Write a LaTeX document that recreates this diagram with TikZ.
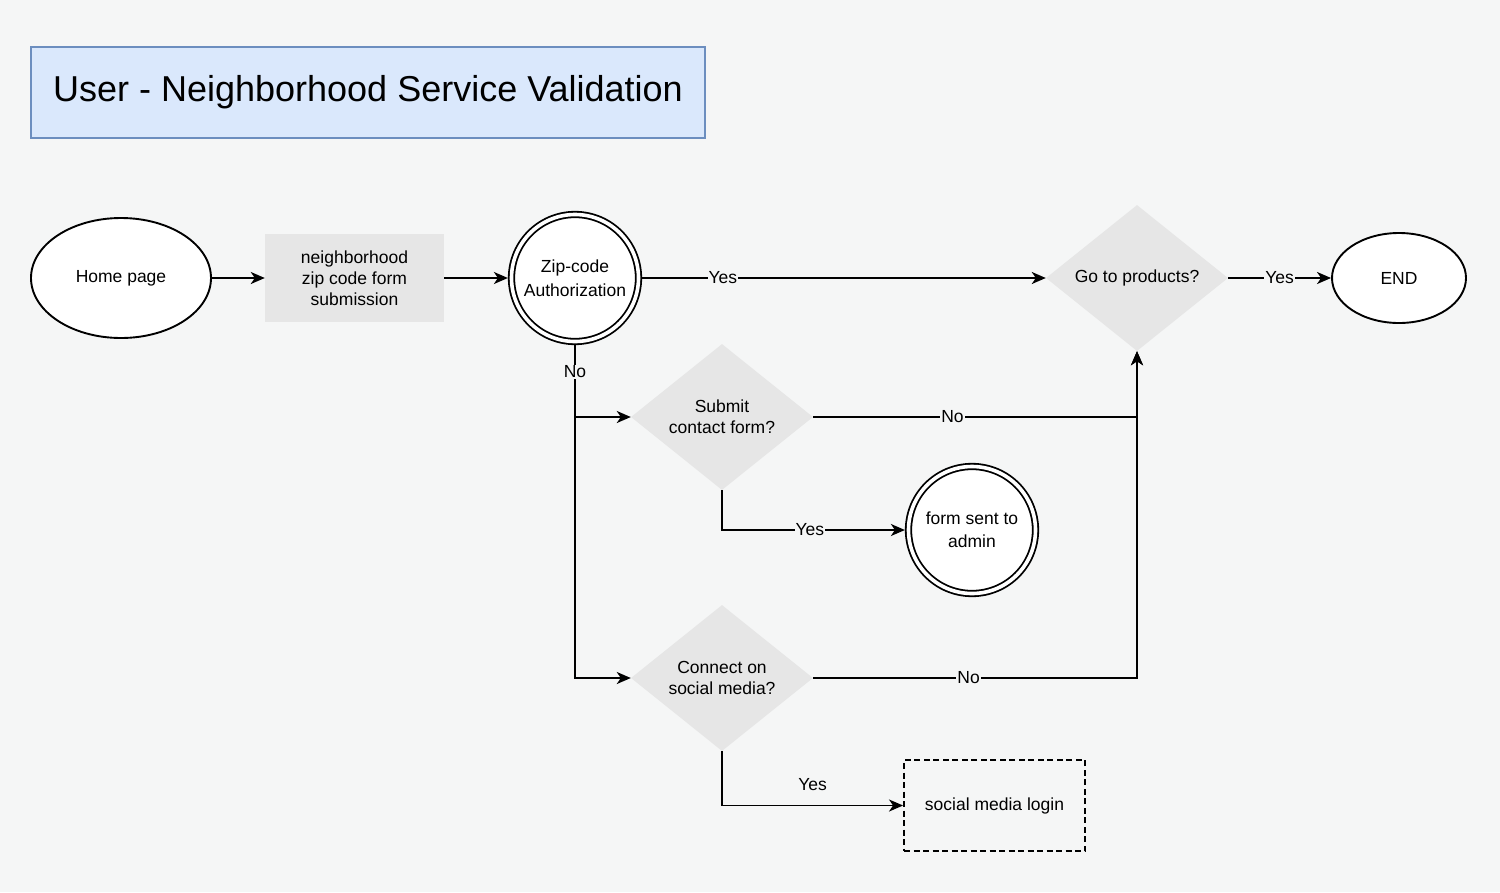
\documentclass[tikz,border=0pt]{standalone}
\usepackage{fontspec}
\setmainfont{Liberation Sans}
\usetikzlibrary{shapes.geometric,arrows.meta,calc}
\definecolor{bg}{RGB}{245,246,246}
\definecolor{titlefill}{HTML}{DAE8FC}
\definecolor{titledraw}{HTML}{6C8EBF}
\definecolor{boxfill}{HTML}{E6E6E6}
\tikzset{
  lbl/.style={font=\fontsize{17.5}{21}\selectfont, align=center, text=black},
  term/.style={ellipse, draw=black, fill=white, line width=1.9pt, inner sep=0pt, lbl},
  procbox/.style={rectangle, fill=boxfill, inner sep=0pt, lbl},
  decide/.style={diamond, fill=boxfill, aspect=1.25, inner sep=0pt, minimum width=182pt, minimum height=146pt, lbl},
  dcirc/.style={circle, draw=black, line width=1.8pt, double=white, double distance=3.6pt, fill=white, inner sep=0pt, outer sep=3.6pt, minimum size=127pt, lbl},
  conn/.style={draw=black, line width=1.9pt, -{Stealth[length=14pt,width=12pt,inset=4pt]}},
  elbl/.style={fill=bg, inner sep=1pt, font=\fontsize{17.5}{20}\selectfont, text=black},
}
\begin{document}
\begin{tikzpicture}[x=1pt,y=-1pt]
\fill[bg] (0,0) rectangle (1500,892);
\useasboundingbox (0,0) rectangle (1500,892);

\node[draw=titledraw, fill=titlefill, line width=1.8pt, minimum width=674pt, minimum height=91pt, inner sep=0pt,
  font=\fontsize{36}{40}\selectfont] (title) at (368,92.5) {User - Neighborhood Service Validation};

\node[term, minimum width=180pt, minimum height=120pt] (home) at (121,278) {Home page};
\node[procbox, minimum width=179pt, minimum height=88pt] (form) at (354.5,278) {neighborhood\\zip code form\\submission};
\node[dcirc, font=\fontsize{17.5}{24}\selectfont] (zip) at (575,278) {Zip-code\\Authorization};
\node[decide] (go) at (1137,278) {Go to products?};
\node[term, minimum width=134pt, minimum height=90pt] (end) at (1399,278) {END};
\node[decide] (sub) at (722,417) {Submit\\contact form?};
\node[dcirc, font=\fontsize{17.5}{23}\selectfont] (sent) at (972,530) {form sent to\\admin};
\node[decide] (con) at (722,678) {Connect on\\social media?};
\node[rectangle, draw=black, dash pattern=on 6pt off 3.5pt, line width=1.9pt, minimum width=181pt, minimum height=91pt, inner sep=0pt, lbl] (smlogin) at (994.5,805.5) {social media login};

\coordinate (j1) at (zip.south |- sub.west);

\draw[conn] (home) -- (form);
\draw[conn] (form) -- (zip);
\draw[conn] (zip) -- node[elbl, pos=0.2] {Yes} (go);
\draw[conn] (go) -- node[elbl, pos=0.5] {Yes} (end);
\draw[conn] (zip.south) |- node[elbl, pos=0.04] {No} (con.west);
\draw[conn] (j1) -- (sub.west);
\draw[conn] (sub.east) -| node[elbl, pos=0.215] {No} (go.south);
\draw[conn] (con.east) -| node[elbl, pos=0.24] {No} (go.south);
\draw[conn] (sub.south) |- node[elbl, pos=0.74] {Yes} (sent.west);
\draw[conn] (con.south) |- node[elbl, pos=0.75, above=13pt] {Yes} (smlogin.west);
\end{tikzpicture}
\end{document}
